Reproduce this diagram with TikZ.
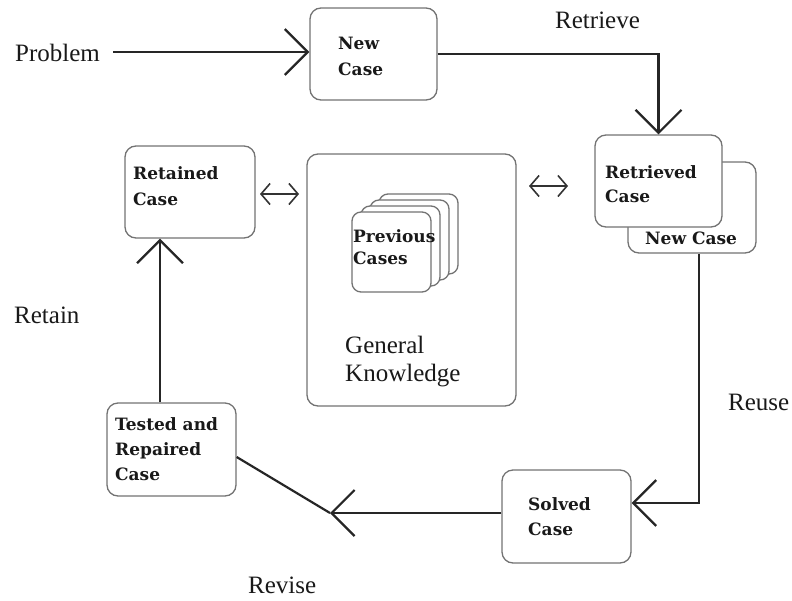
\documentclass[tikz,border=0pt]{standalone}
\usepackage{fontspec}
\setmainfont{Liberation Serif}
\newfontfamily\boxfont{DejaVu Serif}
\usetikzlibrary{arrows.meta}
\begin{document}
\begin{tikzpicture}[x=1pt,y=-1pt,
  box/.style={draw=black!55, line width=1.3pt, rounded corners=11pt, fill=white, inner sep=0pt},
  card/.style={box, rounded corners=9pt, minimum width=79pt, minimum height=80pt},
  boxtxt/.style={anchor=base west, inner sep=0pt, font=\boxfont\bfseries\fontsize{17}{25}\selectfont, text=black!90},
  lbl/.style={anchor=base west, inner sep=0pt, font=\fontsize{25}{28}\selectfont, text=black!90},
  flow/.style={line width=2.2pt, draw=black!85, -{Straight Barb[length=23pt,width=46pt]}},
  plain/.style={line width=2.2pt, draw=black!85},
  dbl/.style={line width=1.6pt, draw=black!80, {Straight Barb[length=9pt,width=21pt]}-{Straight Barb[length=9pt,width=21pt]}}]
\useasboundingbox (0,0) rectangle (792,600);

% boxes
\node[box, minimum width=127pt, minimum height=92pt] (newcase) at (373.5,54) {};
\node[box, minimum width=128pt, minimum height=91pt] (retr2) at (692,207.5) {};
\node[box, minimum width=127pt, minimum height=92pt] (retrieved) at (658.5,181) {};
\node[box, minimum width=209pt, minimum height=252pt] (gk) at (411.5,280) {};
\node[box, minimum width=130pt, minimum height=92pt] (retained) at (190,192) {};
\node[box, minimum width=129pt, minimum height=93pt] (tested) at (171.5,449.5) {};
\node[box, minimum width=129pt, minimum height=93pt] (solved) at (566.5,516.5) {};

% previous cases stack
\node[card] (c4) at (418.5,234) {};
\node[card] (c3) at (409.5,240) {};
\node[card] (c2) at (400.5,246) {};
\node[card] (c1) at (391.5,252) {};

% box texts
\node[boxtxt] (t1) at (338,49) {New};
\node[boxtxt] (t2) at (338,75) {Case};
\node[boxtxt] (t3) at (605,178) {Retrieved};
\node[boxtxt] (t4) at (605,202) {Case};
\node[boxtxt] (t5) at (645,244) {New Case};
\node[boxtxt] (t6) at (133,179) {Retained};
\node[boxtxt] (t7) at (133,205) {Case};
\node[boxtxt] (t8) at (115,430) {Tested and};
\node[boxtxt] (t9) at (115,455) {Repaired};
\node[boxtxt] (t10) at (115,480) {Case};
\node[boxtxt] (t11) at (528,510) {Solved};
\node[boxtxt] (t12) at (528,535) {Case};
\node[boxtxt] (t13) at (353,242) {Previous};
\node[boxtxt] (t14) at (353,264) {Cases};

% labels
\node[lbl] (problem) at (15,61) {Problem};
\node[lbl] (retrieve) at (555,28) {Retrieve};
\node[lbl] (retain) at (14,323) {Retain};
\node[lbl] (reuse) at (728,410) {Reuse};
\node[lbl] (revise) at (248,593) {Revise};
\node[lbl] (general) at (345,353) {General};
\node[lbl] (knowledge) at (345,381) {Knowledge};

% connectors
\coordinate (pstart) at (113,52);
\draw[flow] (pstart) -- (newcase.west |- pstart);
\draw[flow] (newcase.east) -| (retrieved.north);
\coordinate (rcorner) at (699,503);
\draw[flow] (retr2.south -| rcorner) -- (rcorner) -- (solved.east |- rcorner);
\coordinate (rv) at (330,513);
\draw[flow] (solved.west |- rv) -- (rv);
\draw[plain] (rv) -- (tested.east |- 0,457);
\coordinate (rt) at (160,0);
\draw[flow] (tested.north -| rt) -- (retained.south -| rt);

% double arrows
\coordinate (d1a) at (260,194);
\coordinate (d1b) at (299,194);
\draw[dbl] (d1a) -- (d1b);
\coordinate (d2a) at (529,186);
\coordinate (d2b) at (568,186);
\draw[dbl] (d2a) -- (d2b);
\end{tikzpicture}
\end{document}
